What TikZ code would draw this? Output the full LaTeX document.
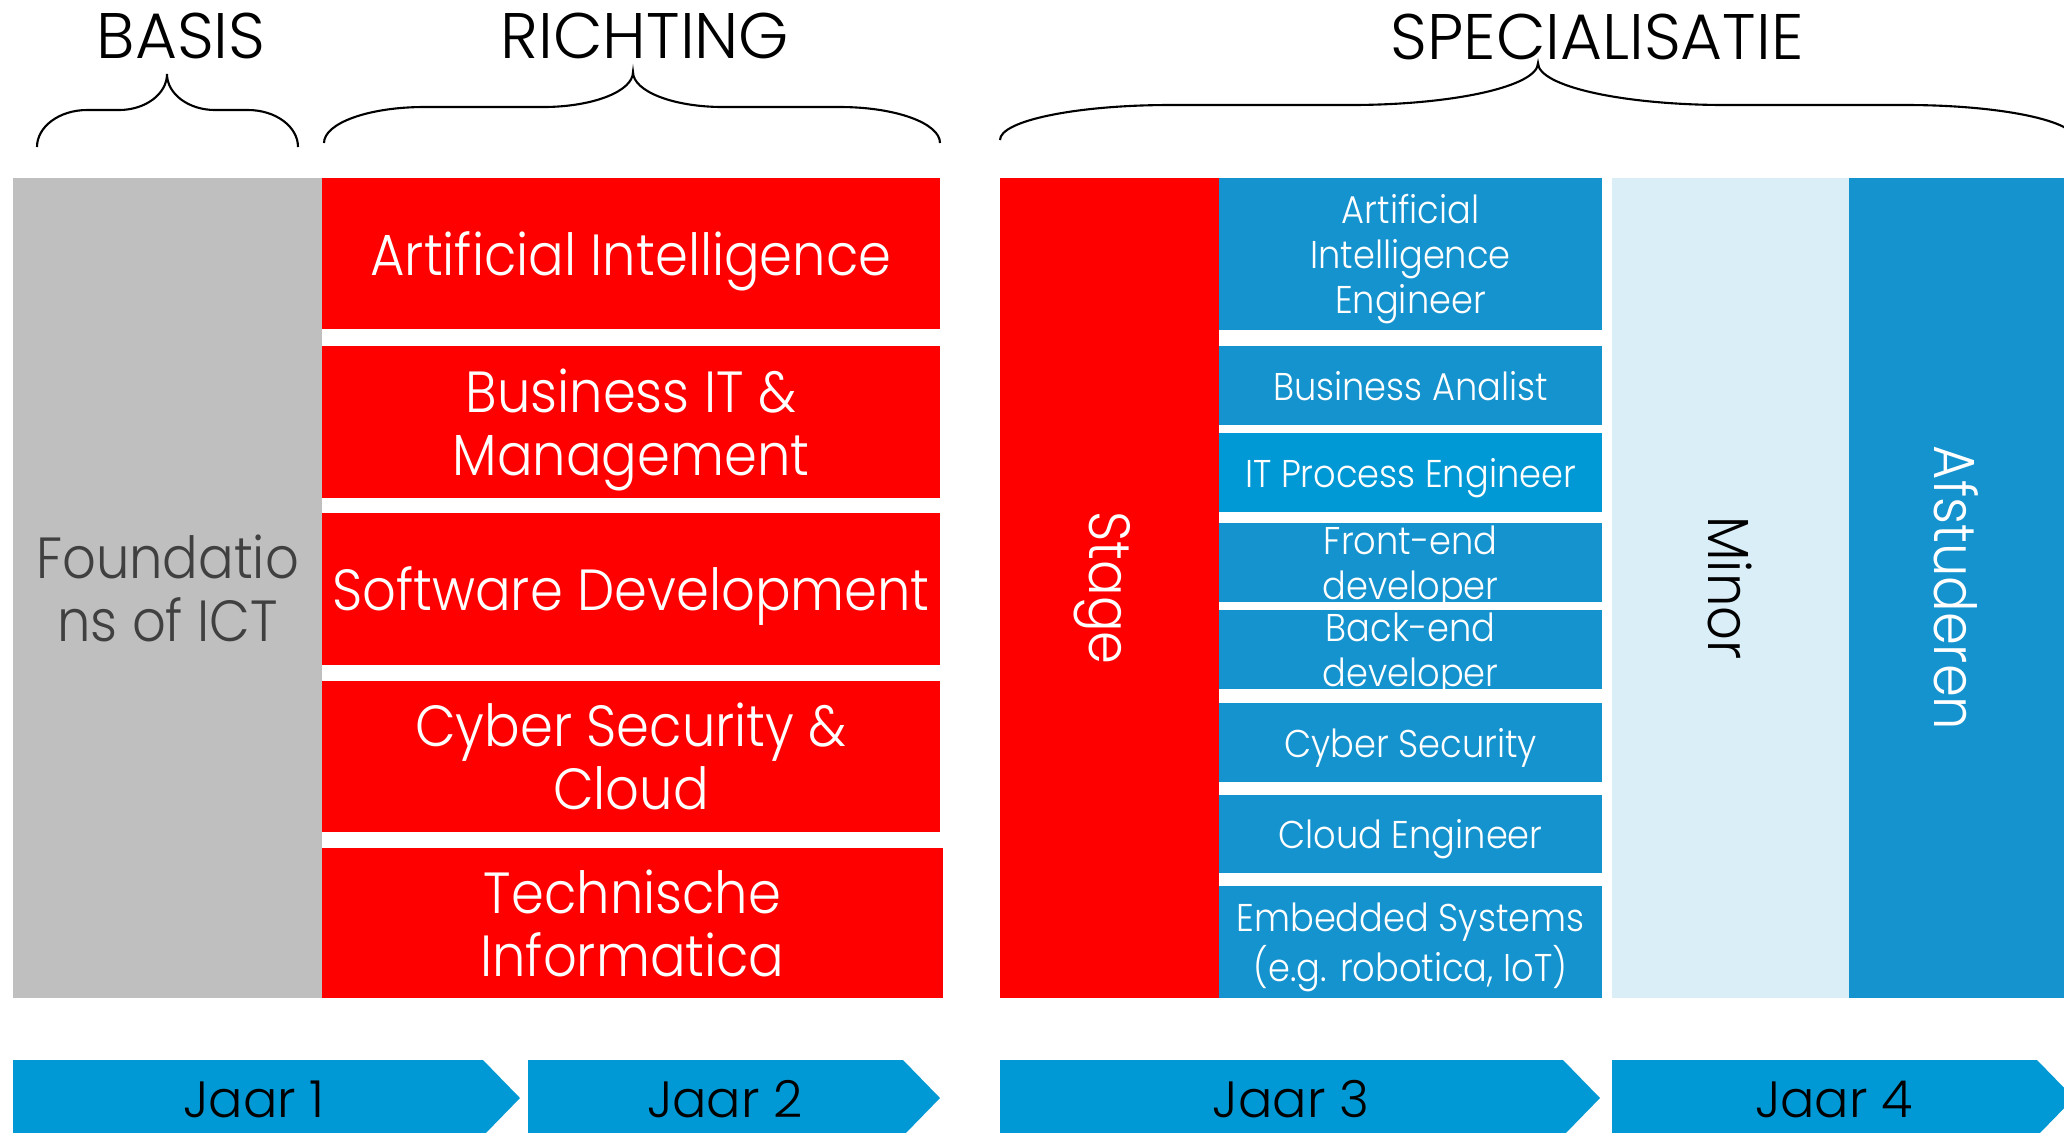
\documentclass[tikz,border=0pt]{standalone}
\usepackage{fontspec}
\setmainfont{Poppins}[UprightFont=* Light,FakeStretch=0.91]
\newfontfamily\kopfont{Poppins}[UprightFont=* Light]
\definecolor{ictgrijs}{RGB}{191,191,191}
\definecolor{ictdonker}{RGB}{64,64,64}
\definecolor{ictrood}{RGB}{255,0,0}
\definecolor{ictblauw}{RGB}{20,147,206}
\definecolor{ictfel}{RGB}{0,153,213}
\definecolor{ictlicht}{RGB}{218,238,248}

\begin{document}
\begin{tikzpicture}[x=0.01cm,y=-0.01cm,
		vak/.style={inner sep=0pt,align=center,text=white,text depth=0pt},
		richting/.style={vak,fill=ictrood,minimum width=6.18cm,minimum height=1.51cm,font=\fontsize{16.5}{17.9}\selectfont},
		spec/.style={vak,fill=ictblauw,minimum width=3.83cm,minimum height=0.79cm,font=\fontsize{11}{12.8}\selectfont},
		kolom/.style={vak,rotate=-90,minimum width=8.20cm,font=\fontsize{16.5}{17.9}\selectfont},
		kop/.style={inner sep=0pt,font=\kopfont\fontsize{18.3}{20}\selectfont},
		accolade/.style={line width=0.6pt},
		jaar/.style={fill=ictfel},
		jaartekst/.style={inner sep=0pt,font=\kopfont\fontsize{14.5}{16}\selectfont}]
	\useasboundingbox (0,0) rectangle (2064,1132);
	\clip (0,0) rectangle (2064,1132);

	% koppen
	\node[kop] (basis) at (181,36) {BASIS};
	\node[kop] (richt) at (645,36) {RICHTING};
	\node[kop] (specia) at (1597,37) {SPECIALISATIE};

	\draw[accolade] (37,147) arc[start angle=180,end angle=270,x radius=50,y radius=37] -- (119,110)
		arc[start angle=90,end angle=0,x radius=48,y radius=36]
		arc[start angle=180,end angle=90,x radius=48,y radius=36] -- (248,110)
		arc[start angle=270,end angle=360,x radius=50,y radius=37];
	\draw[accolade] (324,143) arc[start angle=180,end angle=270,x radius=100,y radius=36] -- (543,107)
		arc[start angle=90,end angle=0,x radius=90,y radius=35]
		arc[start angle=180,end angle=90,x radius=90,y radius=35] -- (840,107)
		arc[start angle=270,end angle=360,x radius=100,y radius=36];
	\draw[accolade] (1000,140) arc[start angle=180,end angle=270,x radius=170,y radius=35] -- (1350,105)
		arc[start angle=90,end angle=0,x radius=188,y radius=42]
		arc[start angle=180,end angle=90,x radius=188,y radius=42] -- (1906,105)
		arc[start angle=270,end angle=360,x radius=170,y radius=35];

	% basis en richting
	\node[vak,fill=ictgrijs,text=ictdonker,minimum width=3.09cm,minimum height=8.20cm,font=\fontsize{16.5}{17.9}\selectfont] (found) at (167.5,588) {Foundatio\\ns of ICT};
	\node[richting] (ai) at (631,253.5) {Artificial Intelligence};
	\node[richting] (bim) at (631,422) {Business IT \&\\Management};
	\node[richting] (sd) at (631,589) {Software Development};
	\node[richting] (csc) at (631,756.5) {Cyber Security \&\\Cloud};
	\node[richting,minimum width=6.21cm,minimum height=1.50cm] (ti) at (632.5,923) {Technische\\Informatica};

	% specialisatie
	\node[kolom,fill=ictrood,minimum height=2.19cm] (stage) at (1109.5,588) {Stage};
	\node[spec,minimum height=1.52cm] (aie) at (1410.5,254) {Artificial\\Intelligence\\Engineer};
	\node[spec] (ba) at (1410.5,385.5) {Business Analist};
	\node[spec,fill=ictfel] (itp) at (1410.5,472.5) {IT Process Engineer};
	\node[spec] (fe) at (1410.5,562.5) {Front-end\\developer};
	\node[spec] (be) at (1410.5,649.5) {Back-end\\developer};
	\node[spec] (cs) at (1410.5,742.5) {Cyber Security};
	\node[spec,minimum height=0.78cm] (ce) at (1410.5,834) {Cloud Engineer};
	\node[spec,minimum height=1.12cm] (es) at (1410.5,942) {Embedded Systems\\(e.g. robotica, IoT)};
	\node[kolom,fill=ictlicht,text=black,minimum height=2.37cm] (minor) at (1730.5,588) {Minor};
	\node[kolom,fill=ictblauw,minimum height=2.15cm] (afst) at (1956.5,588) {Afstuderen};

	% jaren
	\fill[jaar] (13,1060) -- (483,1060) -- (520,1098) -- (483,1136) -- (13,1136) -- cycle;
	\fill[jaar] (528,1060) -- (903,1060) -- (940,1098) -- (903,1136) -- (528,1136) -- cycle;
	\fill[jaar] (1000,1060) -- (1563,1060) -- (1600,1098) -- (1563,1136) -- (1000,1136) -- cycle;
	\fill[jaar] (1612,1060) -- (2037,1060) -- (2074,1098) -- (2037,1136) -- (1612,1136) -- cycle;
	\node[jaartekst] (j1) at (254,1099) {Jaar 1};
	\node[jaartekst] (j2) at (725,1099) {Jaar 2};
	\node[jaartekst] (j3) at (1291,1099) {Jaar 3};
	\node[jaartekst] (j4) at (1834,1099) {Jaar 4};
\end{tikzpicture}
\end{document}
